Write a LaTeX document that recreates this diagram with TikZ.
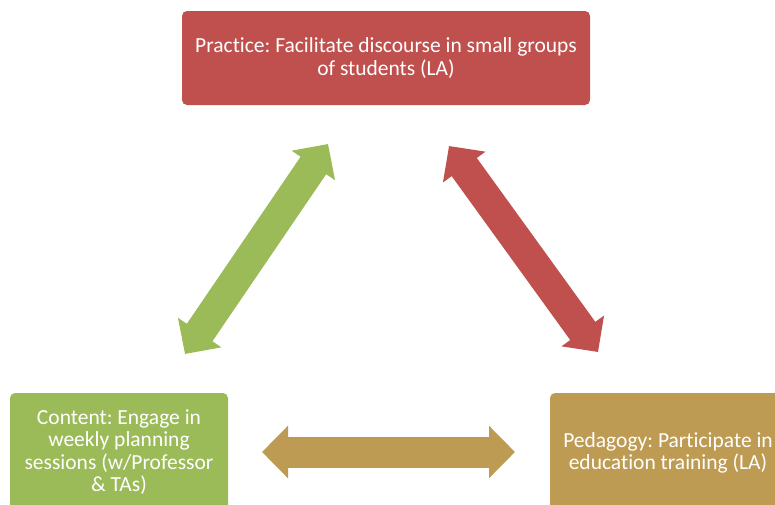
\documentclass[tikz,border=0pt]{standalone}
\usepackage{fontspec}
\setmainfont[Ligatures={NoCommon}]{Carlito}
\frenchspacing
\usetikzlibrary{arrows.meta}
\definecolor{boxred}{HTML}{C0504D}
\definecolor{boxgreen}{HTML}{9BBB59}
\definecolor{boxtan}{HTML}{BE9B53}
\tikzset{
  topic/.style={rounded corners=5pt, text=white, align=center,
    font=\fontsize{21.5}{22.5}\selectfont, inner sep=0pt},
  dblarrow/.style={line width=31pt,
    {Triangle[width=51pt,length=26pt]}-{Triangle[width=51pt,length=26pt]}}
}
\begin{document}
\begin{tikzpicture}[x=1pt,y=-1pt]
\useasboundingbox (0,0) rectangle (775,504);
\clip (0,0) rectangle (775,504);
% boxes
\fill[boxred, rounded corners=5pt] (182,11) rectangle (590,105);
\node[topic] (practice) at (386,58) {Practice: Facilitate discourse in small groups\\of students (LA)};
\fill[boxgreen, rounded corners=5pt] (10,393) rectangle (228,512);
\node[topic] (content) at (119,452) {Content: Engage in\\weekly planning\\sessions (w/Professor\\\& TAs)};
\fill[boxtan, rounded corners=5pt] (550,393) rectangle (787,512);
\node[topic] (pedagogy) at (668,453) {Pedagogy: Participate in\\education training (LA)};
% arrows
\coordinate (g1) at (185,354);
\coordinate (g2) at (328,144);
\coordinate (r1) at (449,146);
\coordinate (r2) at (598,352);
\coordinate (t1) at (262,452);
\coordinate (t2) at (515,452);
\draw[dblarrow, boxgreen] (g1) -- (g2);
\draw[dblarrow, boxred] (r1) -- (r2);
\draw[dblarrow, boxtan] (t1) -- (t2);
\end{tikzpicture}
\end{document}
